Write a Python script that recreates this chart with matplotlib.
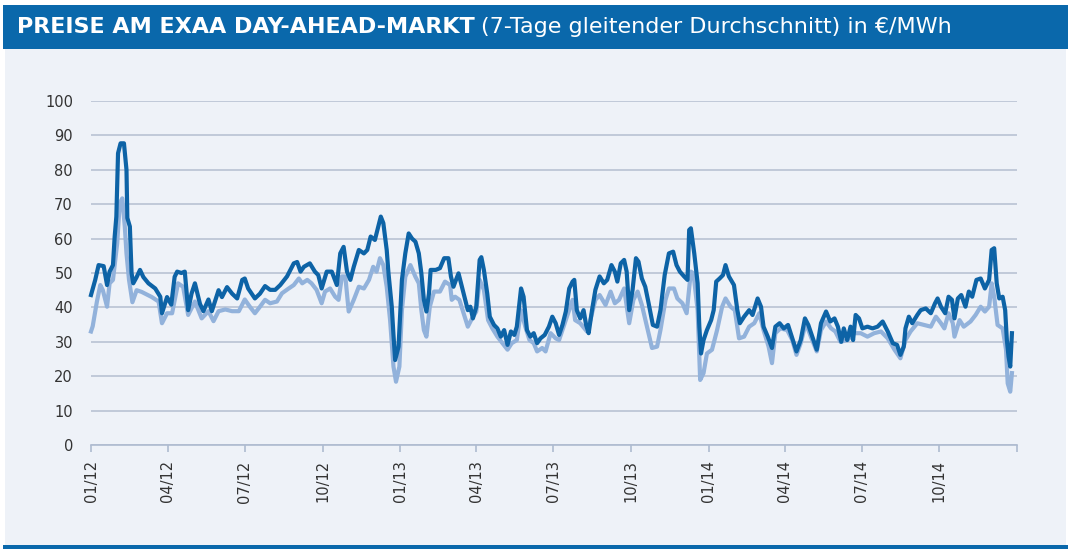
import numpy as np
import pandas as pd
import matplotlib
matplotlib.use("Agg")
import matplotlib.pyplot as plt
import matplotlib.dates as mdates
from matplotlib.patches import Rectangle

# days since 2012-01-01 and 7-day moving average in EUR/MWh
peak_days = [0, 5, 9, 15, 19, 22, 26, 28, 30, 32, 35, 39, 42, 43, 46, 48, 50, 54, 58, 62,
             68, 76, 82, 84, 90, 95, 99, 102, 107, 111, 115, 119, 123, 129, 133, 139, 143, 151, 155, 161,
             167, 173, 179, 182, 186, 194, 200, 206, 212, 218, 224, 232, 240, 244, 248, 252, 259, 265, 269, 273,
             279, 285, 291, 295, 299, 303, 307, 311, 317, 323, 327, 331, 336, 340, 343, 346, 350, 352, 356, 358,
             360, 364, 368, 372, 376, 380, 384, 388, 391, 394, 397, 400, 402, 408, 413, 418, 423, 426, 429, 432,
             435, 438, 442, 446, 449, 452, 456, 460, 462, 465, 469, 472, 477, 481, 485, 489, 493, 497, 501, 504,
             509, 512, 516, 520, 524, 528, 532, 537, 542, 546, 550, 554, 558, 562, 566, 570, 572, 575, 579, 583,
             586, 589, 593, 597, 602, 607, 611, 616, 620, 623, 627, 631, 634, 637, 641, 645, 648, 652, 656, 660,
             665, 670, 674, 679, 684, 689, 693, 697, 702, 706, 708, 710, 714, 718, 720, 722, 725, 729, 734, 737,
             740, 744, 748, 751, 755, 761, 765, 768, 773, 779, 783, 789, 793, 796, 801, 806, 810, 815, 820, 825,
             830, 835, 840, 845, 849, 853, 859, 864, 870, 875, 880, 884, 888, 891, 895, 899, 902, 905, 909, 913,
             919, 925, 931, 937, 943, 949, 954, 958, 962, 964, 968, 972, 978, 982, 988, 994, 999, 1002, 1006, 1011,
             1015, 1019, 1022, 1026, 1030, 1035, 1039, 1043, 1048, 1053, 1058, 1063, 1066, 1069, 1072, 1075, 1079, 1082, 1084, 1086,
             1088, 1090]
peak = [43.6, 48, 52.3, 52, 46.5, 50.4, 52.3, 60.5, 66.4, 84.8, 87.7, 87.7, 80, 66, 63.5, 50, 47, 48.8, 50.9, 48.8,
        47, 45.5, 43.1, 38.3, 43, 40.8, 48.9, 50.4, 50, 50.4, 39.2, 44, 47, 41, 38.9, 42.3, 38.9, 45, 43, 45.9,
        44, 42.6, 48, 48.4, 45.5, 42.6, 44, 46.2, 45.1, 45.1, 46.5, 49, 52.8, 53.2, 50.4, 51.8, 52.8, 50.4, 49.4, 45.5,
        50.4, 50.4, 46.5, 55.7, 57.6, 50.4, 48, 51.8, 56.7, 55.7, 56.7, 60.6, 59.6, 63.5, 66.4, 64.5, 56.7, 50.2, 40.2, 32,
        24.7, 28.6, 48, 55.7, 61.5, 60, 59.1, 55.7, 49.9, 42.2, 38.8, 44, 50.9, 50.9, 51.4, 54.3, 54.3, 49, 46, 48,
        49.9, 47, 43.1, 39.2, 40.2, 36.8, 40.2, 53.8, 54.6, 50.9, 44, 37.3, 34.9, 33.9, 31.5, 33.4, 29.1, 33, 32, 34.4,
        45.5, 43.1, 33.4, 31.5, 32.5, 29.6, 31, 32, 34.4, 37.3, 35.4, 32, 34.9, 38.8, 45.5, 47.5, 48, 39.2, 36.8, 39.2,
        34.9, 32.5, 39.2, 45.1, 49, 47, 48, 52.3, 50.4, 47.5, 52.8, 53.8, 50.4, 39.2, 45.1, 54.3, 53.3, 48.4, 46, 41.2,
        34.9, 34.4, 39.2, 49.4, 55.7, 56.2, 52.3, 50.4, 49, 48, 62.5, 63, 55.7, 47, 34.4, 26.6, 30.5, 33.4, 36.3, 39.2,
        47.5, 48.4, 49.4, 52.3, 49, 46.5, 39.2, 35.4, 37.3, 39.2, 37.8, 42.6, 40.2, 34.4, 31.5, 28.2, 34.4, 35.4, 33.9, 34.9,
        31, 27.2, 30.5, 36.8, 34.9, 32, 27.7, 35.4, 38.8, 35.9, 36.8, 34.4, 30, 33.9, 30.5, 34.4, 30.5, 37.8, 36.8, 33.9,
        34.4, 33.9, 34.4, 35.9, 33, 29.6, 29.1, 26.2, 28.6, 33.9, 37.3, 35.4, 37.8, 39.2, 39.7, 38.3, 41.2, 42.6, 40.2, 38.3,
        43.1, 42.2, 36.8, 42.6, 43.6, 40.2, 44.6, 43.1, 48, 48.4, 45.5, 48, 56.7, 57.2, 47, 42.6, 43.1, 39.2, 30.5, 25.7,
        22.8, 32.5]

base_days = [0, 2, 7, 11, 14, 19, 22, 26, 31, 34, 37, 40, 42, 45, 49, 54, 60, 72, 80, 84,
             90, 96, 103, 109, 115, 123, 131, 139, 145, 151, 159, 167, 175, 182, 188, 194, 200, 206, 212, 220,
             226, 234, 240, 246, 250, 256, 261, 267, 273, 277, 283, 289, 293, 297, 301, 305, 311, 317, 323, 329,
             334, 338, 342, 346, 350, 354, 358, 361, 365, 368, 372, 378, 384, 388, 391, 394, 397, 401, 406, 413,
             419, 425, 427, 431, 436, 441, 446, 451, 456, 460, 465, 470, 475, 481, 487, 493, 498, 504, 509, 514,
             519, 524, 528, 534, 538, 544, 550, 554, 560, 566, 570, 573, 579, 587, 591, 597, 602, 609, 615, 620,
             625, 631, 637, 642, 647, 652, 658, 664, 670, 674, 680, 684, 690, 694, 700, 705, 710, 713, 718, 721,
             725, 729, 735, 741, 747, 751, 757, 762, 767, 773, 779, 785, 791, 796, 802, 806, 810, 816, 824, 830,
             835, 840, 846, 852, 859, 864, 870, 876, 881, 887, 895, 903, 911, 919, 927, 935, 943, 951, 958, 964,
             970, 978, 986, 994, 1000, 1006, 1010, 1015, 1020, 1022, 1028, 1033, 1041, 1047, 1053, 1058, 1063, 1066, 1069, 1073,
             1079, 1083, 1085, 1088, 1090]
base = [33, 34.5, 41.7, 46.5, 45, 40.2, 47, 48, 58.6, 70.3, 71.7, 63.5, 55.7, 48, 41.5, 45, 44.5, 43, 41.7, 35.4,
        38.3, 38.3, 47, 46, 37.8, 41.7, 36.8, 38.9, 36, 38.9, 39.4, 38.9, 38.9, 42.3, 40.2, 38.3, 40.2, 42.2, 41.2, 41.7,
        44.1, 45.5, 46.5, 48.4, 47, 48, 47, 45.1, 41.2, 44.6, 45.5, 43.1, 42.2, 49, 49, 38.8, 42.2, 46, 45.5, 48,
        51.8, 50.4, 54.3, 52.3, 46, 36.3, 22.8, 18.4, 22.8, 39.2, 48.9, 52.3, 48.9, 47, 39.2, 33.4, 31.5, 40.2, 44.6, 44.6,
        47.5, 46.5, 42.2, 43.1, 42.2, 38.3, 34.4, 36.8, 38.8, 48, 45.1, 36.3, 33.9, 31.5, 29.6, 27.7, 29.6, 30.5, 39.2, 34.4,
        30.5, 29.6, 27.2, 28.2, 27.2, 32.5, 31, 30.5, 34.9, 39.2, 42.2, 36.3, 35.4, 33, 36.3, 42.2, 43.6, 40.7, 44.6, 41.2,
        42.2, 45.5, 35.4, 42.2, 44.6, 40.7, 34.4, 28.2, 28.6, 33.4, 42.2, 45.5, 45.5, 42.6, 41.2, 38.3, 50.4, 49.9, 39.2, 18.9,
        20.9, 26.6, 27.7, 33.4, 40.2, 42.6, 40.2, 39.2, 31, 31.5, 34.4, 35.4, 38.3, 33.4, 28.6, 23.8, 32.5, 33.9, 33.4, 30.5,
        26.2, 29.6, 35.4, 31.5, 27.2, 33.4, 35.9, 33.9, 33, 30, 30.5, 32.5, 32.5, 31.5, 32.5, 33, 31, 27.7, 25.2, 30.5,
        33, 35.4, 34.9, 34.4, 37.3, 35.4, 33.9, 38.3, 35.4, 31.5, 36.3, 34.4, 35.9, 37.8, 40.2, 38.8, 40.2, 47, 43.1, 34.9,
        33.9, 27.7, 17.9, 15.5, 20.9]

yticks = [0, 10, 20, 30, 40, 50, 60, 70, 80, 90, 100]
tick_months = pd.date_range("2012-01-01", "2014-10-01", freq="3MS")

start = pd.Timestamp("2012-01-01")
peak_dates = start + pd.to_timedelta(peak_days, unit="D")
base_dates = start + pd.to_timedelta(base_days, unit="D")

BLUE = "#0a68ab"
BG = "#eef2f8"
GRID = "#b9c2d3"

fig = plt.figure(figsize=(10.71, 5.49), dpi=100)
fig.patch.set_facecolor("white")
# background panel, title bar and bottom rule
fig.patches.append(Rectangle((5 / 1071, 0), 1061 / 1071, 500 / 549, transform=fig.transFigure,
                             facecolor=BG, edgecolor="none", zorder=-2))
fig.patches.append(Rectangle((3 / 1071, 1 - 49 / 549), 1065 / 1071, 44 / 549, transform=fig.transFigure,
                             facecolor=BLUE, edgecolor="none", zorder=-1))
fig.patches.append(Rectangle((3 / 1071, 0), 1065 / 1071, 4 / 549, transform=fig.transFigure,
                             facecolor=BLUE, edgecolor="none", zorder=-1))

ax = fig.add_axes([91 / 1071, 1 - 445 / 549, 926 / 1071, 344 / 549])
ax.set_zorder(1)
ax.set_facecolor("none")

ax.plot(base_dates, base, color="#92b2db", lw=3.0, solid_joinstyle="round", zorder=3, clip_on=False)
ax.plot(peak_dates, peak, color="#0d63a6", lw=3.0, solid_joinstyle="round", zorder=4, clip_on=False)

ax.set_ylim(0, 100)
ax.set_xlim(pd.Timestamp("2012-01-01"), pd.Timestamp("2015-01-01"))
ax.set_yticks(yticks)
ax.yaxis.grid(True, color=GRID, lw=1.2)
ax.set_axisbelow(True)
for s in ["top", "right", "left"]:
    ax.spines[s].set_visible(False)
ax.spines["bottom"].set_color("#aebbd0")
ax.spines["bottom"].set_linewidth(1.2)
ax.tick_params(axis="y", length=0, pad=13, labelsize=10.5, labelcolor="#333333")

ax.set_xticks(list(tick_months) + [pd.Timestamp("2015-01-01")])
ax.set_xticklabels([d.strftime("%m/%y") for d in tick_months] + [""], rotation=90)
ax.tick_params(axis="x", length=5, width=1.2, color="#aebbd0", labelsize=10.5,
               labelcolor="#333333", pad=6)

# title in two weights
t1 = fig.text(17 / 1071, 1 - 27 / 549, "PREISE AM EXAA DAY-AHEAD-MARKT", color="white",
              fontsize=16, fontweight="bold", va="center", ha="left", family="DejaVu Sans")
fig.canvas.draw()
bb = t1.get_window_extent()
fig.text(bb.x1 / 1071 + 6 / 1071, 1 - 27 / 549, "(7-Tage gleitender Durchschnitt) in €/MWh", color="white",
         fontsize=16, va="center", ha="left", family="DejaVu Sans")

fig.savefig("out.png", dpi=100, facecolor="white")
